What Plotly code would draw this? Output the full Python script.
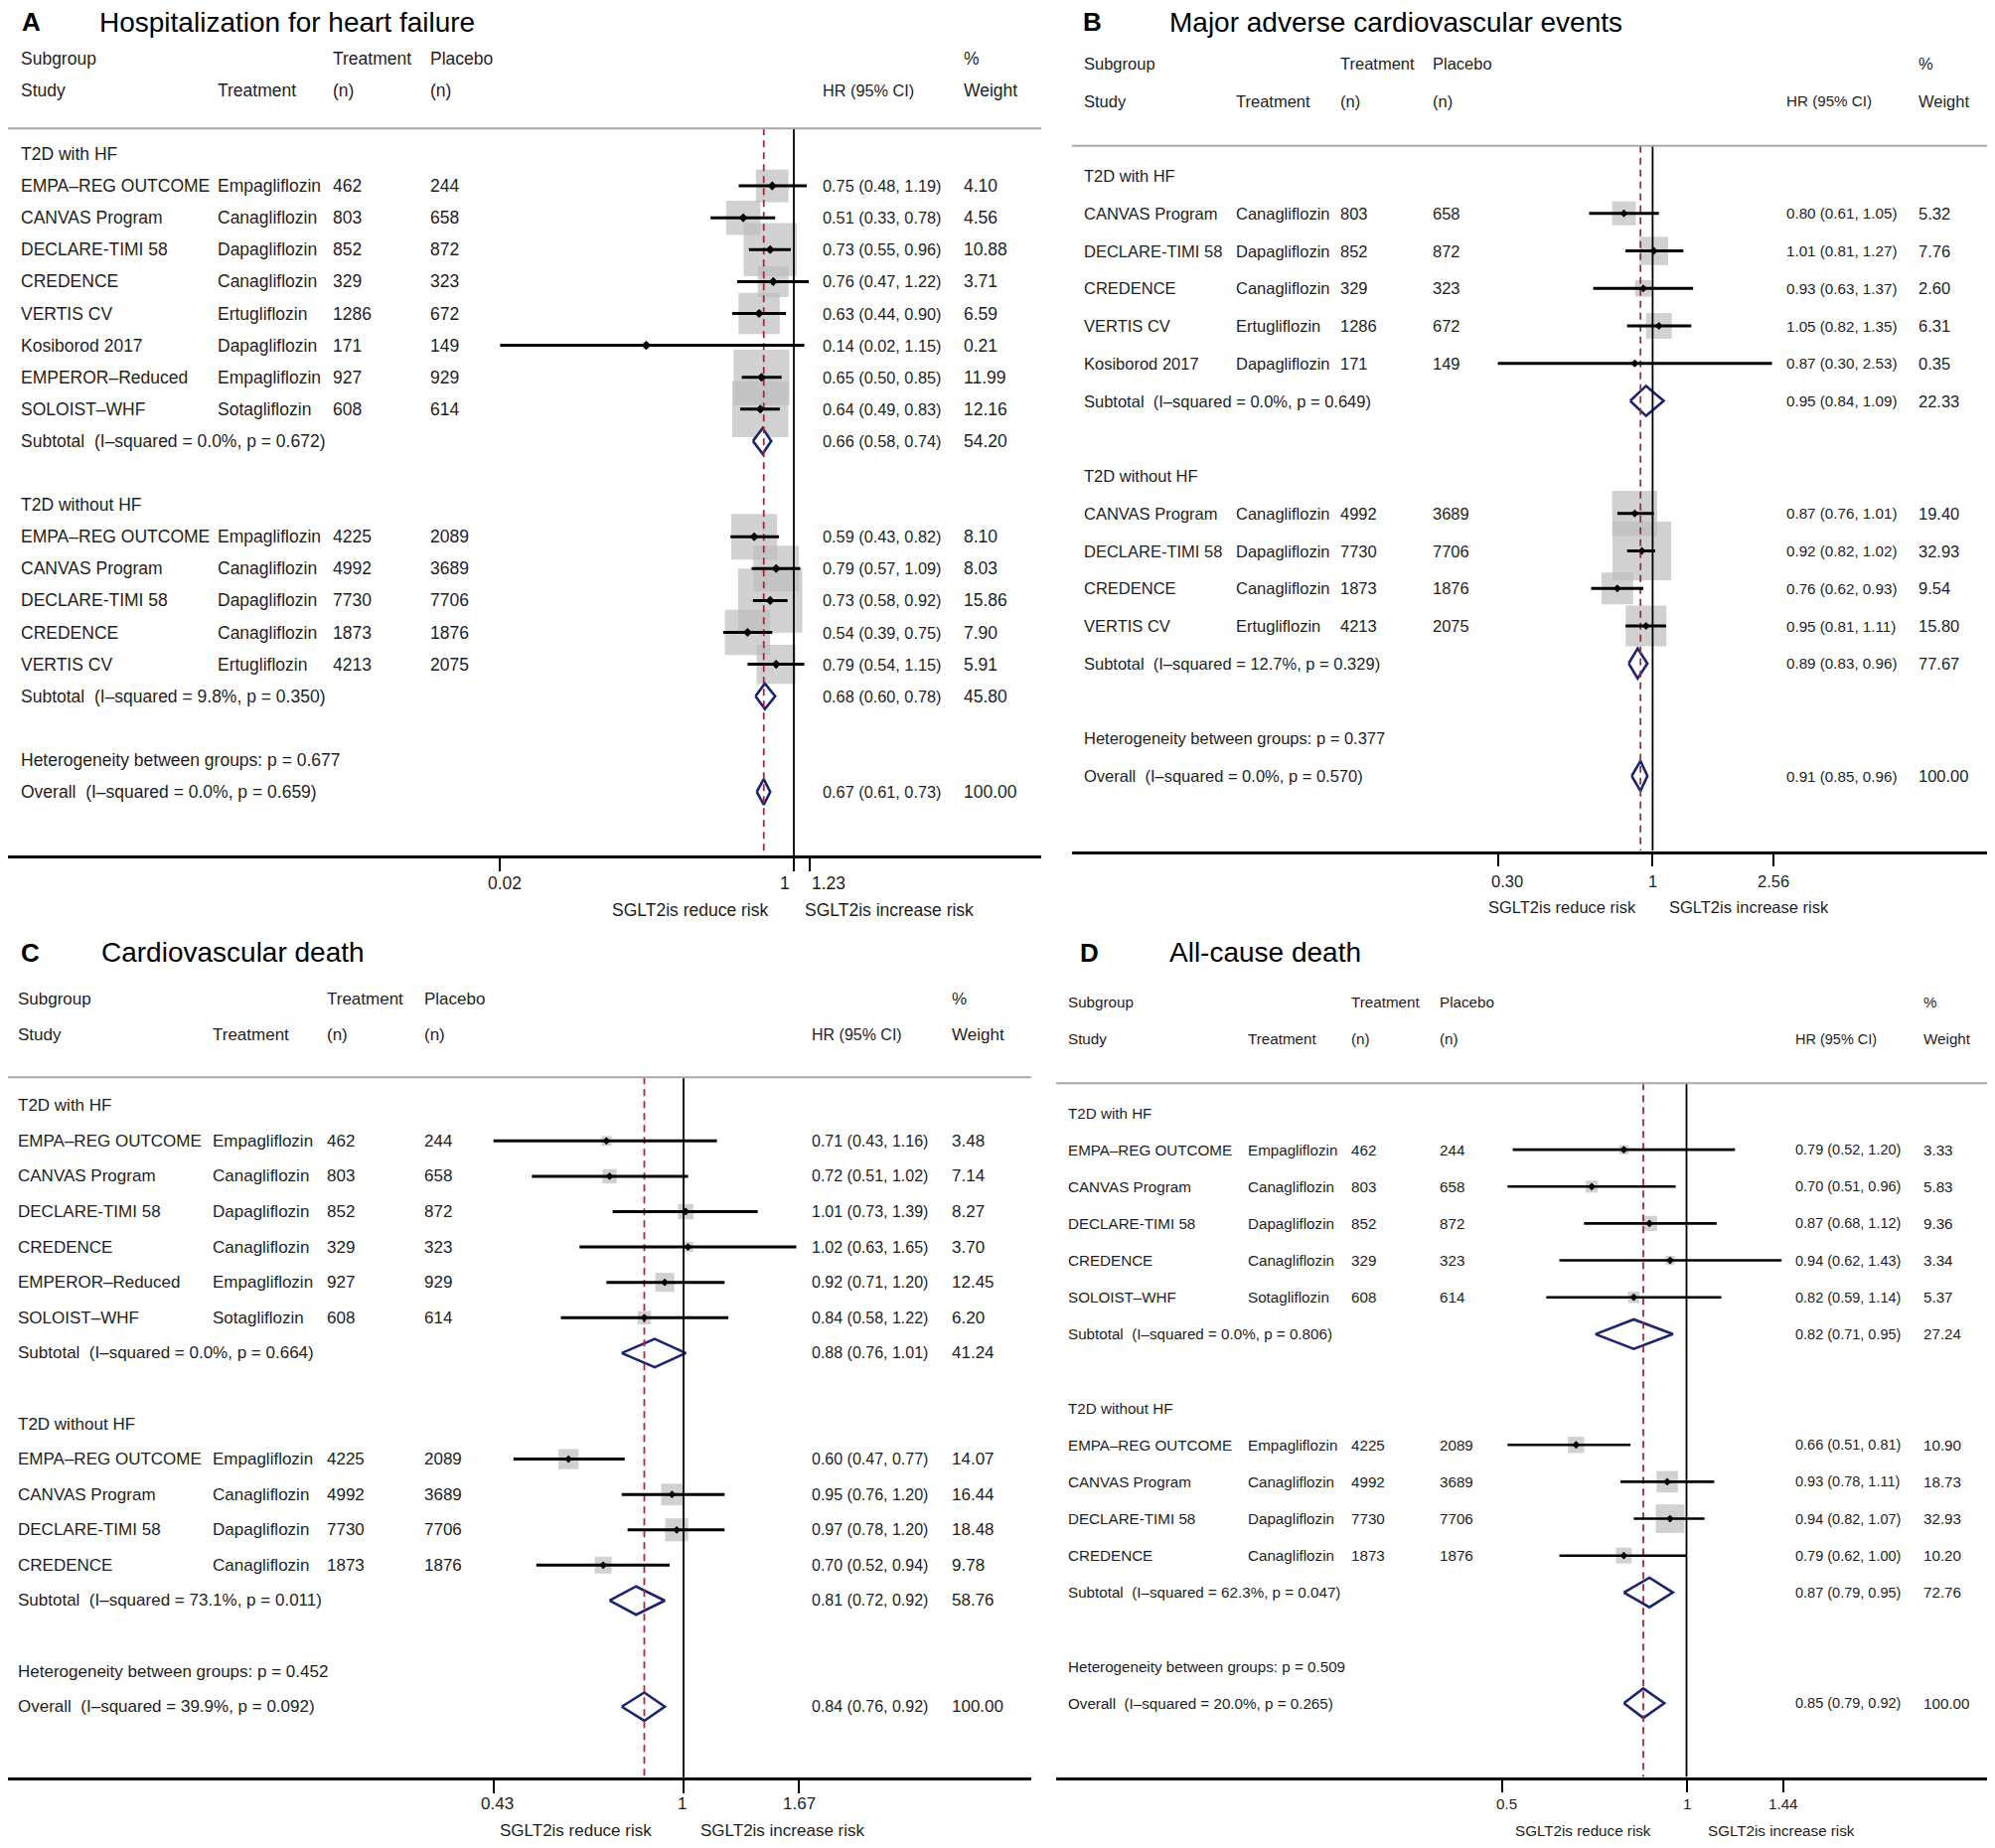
import math
import plotly.graph_objects as go

W, H = 2008, 1860
OFF = 8  # the page body margin shifts the figure by 8 px
ROW_FONT = "Liberation Sans, Arial, sans-serif"
TITLE_FONT = "Liberation Sans, Arial, sans-serif"
TXT = "#1e1e1e"
GRAY_BOX = "#bdbdbd"
NAVY = "#1b2470"
MAROON = "#9e2b3b"

GROUPS = ["T2D with HF", "T2D without HF"]

# ---------------- Panel A: Hospitalization for heart failure ----------------
A_STUDY = ["EMPA–REG OUTCOME", "CANVAS Program", "DECLARE-TIMI 58", "CREDENCE",
           "VERTIS CV", "Kosiborod 2017", "EMPEROR–Reduced", "SOLOIST–WHF",
           "EMPA–REG OUTCOME", "CANVAS Program", "DECLARE-TIMI 58", "CREDENCE", "VERTIS CV"]
A_DRUG = ["Empagliflozin", "Canagliflozin", "Dapagliflozin", "Canagliflozin",
          "Ertugliflozin", "Dapagliflozin", "Empagliflozin", "Sotagliflozin",
          "Empagliflozin", "Canagliflozin", "Dapagliflozin", "Canagliflozin", "Ertugliflozin"]
A_TX_N = [462, 803, 852, 329, 1286, 171, 927, 608, 4225, 4992, 7730, 1873, 4213]
A_PL_N = [244, 658, 872, 323, 672, 149, 929, 614, 2089, 3689, 7706, 1876, 2075]
A_HR = [0.75, 0.51, 0.73, 0.76, 0.63, 0.14, 0.65, 0.64, 0.59, 0.79, 0.73, 0.54, 0.79]
A_LO = [0.48, 0.33, 0.55, 0.47, 0.44, 0.02, 0.50, 0.49, 0.43, 0.57, 0.58, 0.39, 0.54]
A_HI = [1.19, 0.78, 0.96, 1.22, 0.90, 1.15, 0.85, 0.83, 0.82, 1.09, 0.92, 0.75, 1.15]
A_WT = [4.10, 4.56, 10.88, 3.71, 6.59, 0.21, 11.99, 12.16, 8.10, 8.03, 15.86, 7.90, 5.91]
A_N_WITH = 8
A_SUB_HR = [0.66, 0.68]
A_SUB_LO = [0.58, 0.60]
A_SUB_HI = [0.74, 0.78]
A_SUB_WT = [54.20, 45.80]
A_SUB_I2 = [0.0, 9.8]
A_SUB_P = [0.672, 0.350]
A_ALL = [0.67, 0.61, 0.73, 100.00]
A_ALL_I2 = 0.0
A_ALL_P = 0.659
A_HET_P = 0.677
A_TICKS = [0.02, 1, 1.23]
A_TICKTEXT = ["0.02", "1", "1.23"]

# ---------------- Panel B: Major adverse cardiovascular events ----------------
B_STUDY = ["CANVAS Program", "DECLARE-TIMI 58", "CREDENCE", "VERTIS CV", "Kosiborod 2017",
           "CANVAS Program", "DECLARE-TIMI 58", "CREDENCE", "VERTIS CV"]
B_DRUG = ["Canagliflozin", "Dapagliflozin", "Canagliflozin", "Ertugliflozin", "Dapagliflozin",
          "Canagliflozin", "Dapagliflozin", "Canagliflozin", "Ertugliflozin"]
B_TX_N = [803, 852, 329, 1286, 171, 4992, 7730, 1873, 4213]
B_PL_N = [658, 872, 323, 672, 149, 3689, 7706, 1876, 2075]
B_HR = [0.80, 1.01, 0.93, 1.05, 0.87, 0.87, 0.92, 0.76, 0.95]
B_LO = [0.61, 0.81, 0.63, 0.82, 0.30, 0.76, 0.82, 0.62, 0.81]
B_HI = [1.05, 1.27, 1.37, 1.35, 2.53, 1.01, 1.02, 0.93, 1.11]
B_WT = [5.32, 7.76, 2.60, 6.31, 0.35, 19.40, 32.93, 9.54, 15.80]
B_N_WITH = 5
B_SUB_HR = [0.95, 0.89]
B_SUB_LO = [0.84, 0.83]
B_SUB_HI = [1.09, 0.96]
B_SUB_WT = [22.33, 77.67]
B_SUB_I2 = [0.0, 12.7]
B_SUB_P = [0.649, 0.329]
B_ALL = [0.91, 0.85, 0.96, 100.00]
B_ALL_I2 = 0.0
B_ALL_P = 0.570
B_HET_P = 0.377
B_TICKS = [0.30, 1, 2.56]
B_TICKTEXT = ["0.30", "1", "2.56"]

# ---------------- Panel C: Cardiovascular death ----------------
C_STUDY = ["EMPA–REG OUTCOME", "CANVAS Program", "DECLARE-TIMI 58", "CREDENCE",
           "EMPEROR–Reduced", "SOLOIST–WHF",
           "EMPA–REG OUTCOME", "CANVAS Program", "DECLARE-TIMI 58", "CREDENCE"]
C_DRUG = ["Empagliflozin", "Canagliflozin", "Dapagliflozin", "Canagliflozin",
          "Empagliflozin", "Sotagliflozin",
          "Empagliflozin", "Canagliflozin", "Dapagliflozin", "Canagliflozin"]
C_TX_N = [462, 803, 852, 329, 927, 608, 4225, 4992, 7730, 1873]
C_PL_N = [244, 658, 872, 323, 929, 614, 2089, 3689, 7706, 1876]
C_HR = [0.71, 0.72, 1.01, 1.02, 0.92, 0.84, 0.60, 0.95, 0.97, 0.70]
C_LO = [0.43, 0.51, 0.73, 0.63, 0.71, 0.58, 0.47, 0.76, 0.78, 0.52]
C_HI = [1.16, 1.02, 1.39, 1.65, 1.20, 1.22, 0.77, 1.20, 1.20, 0.94]
C_WT = [3.48, 7.14, 8.27, 3.70, 12.45, 6.20, 14.07, 16.44, 18.48, 9.78]
C_N_WITH = 6
C_SUB_HR = [0.88, 0.81]
C_SUB_LO = [0.76, 0.72]
C_SUB_HI = [1.01, 0.92]
C_SUB_WT = [41.24, 58.76]
C_SUB_I2 = [0.0, 73.1]
C_SUB_P = [0.664, 0.011]
C_ALL = [0.84, 0.76, 0.92, 100.00]
C_ALL_I2 = 39.9
C_ALL_P = 0.092
C_HET_P = 0.452
C_TICKS = [0.43, 1, 1.67]
C_TICKTEXT = ["0.43", "1", "1.67"]

# ---------------- Panel D: All-cause death ----------------
D_STUDY = ["EMPA–REG OUTCOME", "CANVAS Program", "DECLARE-TIMI 58", "CREDENCE", "SOLOIST–WHF",
           "EMPA–REG OUTCOME", "CANVAS Program", "DECLARE-TIMI 58", "CREDENCE"]
D_DRUG = ["Empagliflozin", "Canagliflozin", "Dapagliflozin", "Canagliflozin", "Sotagliflozin",
          "Empagliflozin", "Canagliflozin", "Dapagliflozin", "Canagliflozin"]
D_TX_N = [462, 803, 852, 329, 608, 4225, 4992, 7730, 1873]
D_PL_N = [244, 658, 872, 323, 614, 2089, 3689, 7706, 1876]
D_HR = [0.79, 0.70, 0.87, 0.94, 0.82, 0.66, 0.93, 0.94, 0.79]
D_LO = [0.52, 0.51, 0.68, 0.62, 0.59, 0.51, 0.78, 0.82, 0.62]
D_HI = [1.20, 0.96, 1.12, 1.43, 1.14, 0.81, 1.11, 1.07, 1.00]
D_WT = [3.33, 5.83, 9.36, 3.34, 5.37, 10.90, 18.73, 32.93, 10.20]
D_N_WITH = 5
D_SUB_HR = [0.82, 0.87]
D_SUB_LO = [0.71, 0.79]
D_SUB_HI = [0.95, 0.95]
D_SUB_WT = [27.24, 72.76]
D_SUB_I2 = [0.0, 62.3]
D_SUB_P = [0.806, 0.047]
D_ALL = [0.85, 0.79, 0.92, 100.00]
D_ALL_I2 = 20.0
D_ALL_P = 0.265
D_HET_P = 0.509
D_TICKS = [0.5, 1, 1.44]
D_TICKTEXT = ["0.5", "1", "1.44"]

# ---------------- layout configuration (pixels of the 2008x1860 page) ----------------
PANELS = [
    dict(letter="A", title="Hospitalization for heart failure",
         study=A_STUDY, drug=A_DRUG, txn=A_TX_N, pln=A_PL_N, hr=A_HR, lo=A_LO, hi=A_HI, wt=A_WT,
         n_with=A_N_WITH, sub_hr=A_SUB_HR, sub_lo=A_SUB_LO, sub_hi=A_SUB_HI, sub_wt=A_SUB_WT,
         sub_i2=A_SUB_I2, sub_p=A_SUB_P, all=A_ALL, all_i2=A_ALL_I2, all_p=A_ALL_P, het=A_HET_P,
         ticks=A_TICKS, ticktext=A_TICKTEXT, tickshift=[5, -9, 19], tick_dy=28,
         xl=8, xr=1048, x1=799, ppl=174.0, top=8, row0=155, sp=32.1,
         cols=[20, 218, 333.5, 432, 827, 969], letter_x=20, title_x=98, title_y=22,
         fs=17.5, hrfs=16.3, boxk=16.2, dm=7, ciw=3, reduce_r=775, increase_l=808, risk_y=916),
    dict(letter="B", title="Major adverse cardiovascular events",
         study=B_STUDY, drug=B_DRUG, txn=B_TX_N, pln=B_PL_N, hr=B_HR, lo=B_LO, hi=B_HI, wt=B_WT,
         n_with=B_N_WITH, sub_hr=B_SUB_HR, sub_lo=B_SUB_LO, sub_hi=B_SUB_HI, sub_wt=B_SUB_WT,
         sub_i2=B_SUB_I2, sub_p=B_SUB_P, all=B_ALL, all_i2=B_ALL_I2, all_p=B_ALL_P, het=B_HET_P,
         ticks=B_TICKS, ticktext=B_TICKTEXT, tickshift=[9, 0, 0], tick_dy=30,
         xl=1079, xr=2006, x1=1663.4, ppl=298.0, top=8, row0=177, sp=37.75,
         cols=[1089.7, 1243, 1348, 1441, 1796.5, 1930], letter_x=1088, title_x=1175, title_y=22,
         fs=16.5, hrfs=15.2, boxk=10.3, dm=6, ciw=3, reduce_r=1649, increase_l=1678, risk_y=913),
    dict(letter="C", title="Cardiovascular death",
         study=C_STUDY, drug=C_DRUG, txn=C_TX_N, pln=C_PL_N, hr=C_HR, lo=C_LO, hi=C_HI, wt=C_WT,
         n_with=C_N_WITH, sub_hr=C_SUB_HR, sub_lo=C_SUB_LO, sub_hi=C_SUB_HI, sub_wt=C_SUB_WT,
         sub_i2=C_SUB_I2, sub_p=C_SUB_P, all=C_ALL, all_i2=C_ALL_I2, all_p=C_ALL_P, het=C_HET_P,
         ticks=C_TICKS, ticktext=C_TICKTEXT, tickshift=[4, -2, 0], tick_dy=27,
         xl=8, xr=1038, x1=688, ppl=522.0, top=930, row0=1112.7, sp=35.59,
         cols=[16.7, 213, 328, 426, 816, 956.5], letter_x=19, title_x=100, title_y=959,
         fs=17, hrfs=16.0, boxk=5.4, dm=6, ciw=3, reduce_r=658, increase_l=703, risk_y=1842),
    dict(letter="D", title="All-cause death",
         study=D_STUDY, drug=D_DRUG, txn=D_TX_N, pln=D_PL_N, hr=D_HR, lo=D_LO, hi=D_HI, wt=D_WT,
         n_with=D_N_WITH, sub_hr=D_SUB_HR, sub_lo=D_SUB_LO, sub_hi=D_SUB_HI, sub_wt=D_SUB_WT,
         sub_i2=D_SUB_I2, sub_p=D_SUB_P, all=D_ALL, all_i2=D_ALL_I2, all_p=D_ALL_P, het=D_HET_P,
         ticks=D_TICKS, ticktext=D_TICKTEXT, tickshift=[4.5, 0, 0], tick_dy=27,
         xl=1063, xr=2006, x1=1697.5, ppl=616.0, top=930, row0=1120, sp=37.14,
         cols=[1074.4, 1254.6, 1358.5, 1448.3, 1806.3, 1934.5], letter_x=1085, title_x=1175, title_y=959,
         fs=15.2, hrfs=14.5, boxk=5.0, dm=6, ciw=2.6, reduce_r=1664, increase_l=1717, risk_y=1842),
]

TOPLINE_ROW = -0.8
NBSP = "\u00a0"


def fx(px):
    return min(1.0, max(0.0, (px - OFF) / W))


def fy(py):
    return min(1.0, max(0.0, 1 - (py - OFF) / H))


fig = go.Figure()
annotations = []
shapes = []
axes = {}


def add_text(x_px, yref, y, text, size, anchor="left", family=ROW_FONT, color=TXT):
    annotations.append(dict(xref="paper", x=fx(x_px), yref=yref, y=y, text=text,
                            showarrow=False, xanchor=anchor, yanchor="middle",
                            borderpad=0, font=dict(family=family, size=size, color=color)))


for i, P in enumerate(PANELS):
    sfx = "" if i == 0 else str(i + 1)
    xa, ya = "x" + sfx, "y" + sfx
    n1 = P["n_with"]
    n = len(P["hr"])
    n2 = n - n1
    study_rows = list(range(1, n1 + 1)) + list(range(n1 + 4, n1 + 4 + n2))
    grp_rows = [0, n1 + 3]
    sub_rows = [n1 + 1, n1 + 4 + n2]
    het_row = n1 + 6 + n2
    all_row = n1 + 7 + n2
    axis_row = n1 + 9 + n2
    fs = P["fs"]
    hrfs = P["hrfs"]
    c_study, c_drug, c_txn, c_pln, c_hr, c_wt = P["cols"]

    # weight boxes
    fig.add_trace(go.Scatter(
        x=P["hr"], y=study_rows, mode="markers", xaxis=xa, yaxis=ya,
        marker=dict(symbol="square", color=GRAY_BOX, line=dict(width=0),
                    size=[P["boxk"] * math.sqrt(w) for w in P["wt"]]),
        hoverinfo="skip", showlegend=False))

    # summary diamonds (subtotals + overall)
    s_hr = P["sub_hr"] + [P["all"][0]]
    s_lo = P["sub_lo"] + [P["all"][1]]
    s_hi = P["sub_hi"] + [P["all"][2]]
    s_rows = sub_rows + [all_row]
    dx, dy = [], []
    for r, h, lo, hi in zip(s_rows, s_hr, s_lo, s_hi):
        dx += [lo, h, hi, h, lo, None]
        dy += [r, r - 0.4, r, r + 0.4, r, None]
    fig.add_trace(go.Scatter(
        x=dx, y=dy, mode="lines", xaxis=xa, yaxis=ya, fill="toself", fillcolor="white",
        line=dict(color=NAVY, width=2.6), hoverinfo="skip", showlegend=False))

    # reference lines: null effect and overall estimate
    fig.add_trace(go.Scatter(
        x=[1, 1], y=[TOPLINE_ROW, axis_row], mode="lines", xaxis=xa, yaxis=ya,
        line=dict(color="black", width=1.8), hoverinfo="skip", showlegend=False))
    fig.add_trace(go.Scatter(
        x=[P["all"][0], P["all"][0]], y=[TOPLINE_ROW, axis_row], mode="lines", xaxis=xa, yaxis=ya,
        line=dict(color=MAROON, width=1.8, dash="7px,5px"), hoverinfo="skip", showlegend=False))

    # confidence intervals
    cx, cy = [], []
    for r, lo, hi in zip(study_rows, P["lo"], P["hi"]):
        cx += [lo, hi, None]
        cy += [r, r, None]
    fig.add_trace(go.Scatter(
        x=cx, y=cy, mode="lines", xaxis=xa, yaxis=ya,
        line=dict(color="black", width=P["ciw"]), hoverinfo="skip", showlegend=False))

    # point estimates
    fig.add_trace(go.Scatter(
        x=P["hr"], y=study_rows, mode="markers", xaxis=xa, yaxis=ya,
        marker=dict(symbol="diamond", size=P["dm"], color="black", line=dict(width=0)),
        hoverinfo="skip", showlegend=False))

    # axes (tick marks from the axis; tick labels placed at the tick values below)
    axis_px = P["row0"] + axis_row * P["sp"]
    axes["xaxis" + sfx] = dict(
        type="log", domain=[fx(P["xl"]), fx(P["xr"])],
        range=[(P["xl"] - P["x1"]) / P["ppl"], (P["xr"] - P["x1"]) / P["ppl"]],
        anchor=ya, showline=True, linecolor="black", linewidth=2.5,
        ticks="outside", ticklen=13, tickwidth=2, tickcolor="black",
        tickmode="array", tickvals=P["ticks"], ticktext=P["ticktext"], showticklabels=False,
        showgrid=False, zeroline=False, fixedrange=True)
    axes["yaxis" + sfx] = dict(
        domain=[fy(axis_px), fy(P["top"])],
        range=[axis_row, (P["top"] - P["row0"]) / P["sp"]],
        anchor=xa, visible=False, showgrid=False, zeroline=False, fixedrange=True)
    for t, lab, sh in zip(P["ticks"], P["ticktext"], P["tickshift"]):
        annotations.append(dict(xref=xa, x=math.log10(t), yref="paper", y=fy(axis_px + P["tick_dy"]),
                                text=lab, showarrow=False, xanchor="center", yanchor="middle",
                                xshift=sh, borderpad=0,
                                font=dict(family=ROW_FONT, size=fs, color=TXT)))

    # top separator line
    shapes.append(dict(type="line", xref=xa + " domain", x0=0, x1=1, yref=ya,
                       y0=TOPLINE_ROW, y1=TOPLINE_ROW, line=dict(color="#a8a8a8", width=2)))

    # header
    add_text(c_study, ya, -3, "Subgroup", fs)
    add_text(c_txn, ya, -3, "Treatment", fs)
    add_text(c_pln, ya, -3, "Placebo", fs)
    add_text(c_wt, ya, -3, "%", fs)
    add_text(c_study, ya, -2, "Study", fs)
    add_text(c_drug, ya, -2, "Treatment", fs)
    add_text(c_txn, ya, -2, "(n)", fs)
    add_text(c_pln, ya, -2, "(n)", fs)
    add_text(c_hr, ya, -2, "HR (95% CI)", hrfs)
    add_text(c_wt, ya, -2, "Weight", fs)

    # group labels
    for r, g in zip(grp_rows, GROUPS):
        add_text(c_study, ya, r, g, fs)

    # study rows
    for k, r in enumerate(study_rows):
        add_text(c_study, ya, r, P["study"][k], fs)
        add_text(c_drug, ya, r, P["drug"][k], fs)
        add_text(c_txn, ya, r, str(P["txn"][k]), fs)
        add_text(c_pln, ya, r, str(P["pln"][k]), fs)
        add_text(c_hr, ya, r, f"{P['hr'][k]:.2f} ({P['lo'][k]:.2f}, {P['hi'][k]:.2f})", hrfs)
        add_text(c_wt, ya, r, f"{P['wt'][k]:.2f}", fs)

    # subtotals
    for j, r in enumerate(sub_rows):
        add_text(c_study, ya, r,
                 f"Subtotal{NBSP} (I–squared = {P['sub_i2'][j]:.1f}%, p = {P['sub_p'][j]:.3f})", fs)
        add_text(c_hr, ya, r, f"{P['sub_hr'][j]:.2f} ({P['sub_lo'][j]:.2f}, {P['sub_hi'][j]:.2f})", hrfs)
        add_text(c_wt, ya, r, f"{P['sub_wt'][j]:.2f}", fs)

    # heterogeneity and overall
    add_text(c_study, ya, het_row, f"Heterogeneity between groups: p = {P['het']:.3f}", fs)
    add_text(c_study, ya, all_row,
             f"Overall{NBSP} (I–squared = {P['all_i2']:.1f}%, p = {P['all_p']:.3f})", fs)
    add_text(c_hr, ya, all_row, f"{P['all'][0]:.2f} ({P['all'][1]:.2f}, {P['all'][2]:.2f})", hrfs)
    add_text(c_wt, ya, all_row, f"{P['all'][3]:.2f}", fs)

    # panel letter and title
    annotations.append(dict(xref="paper", yref="paper", x=fx(P["letter_x"]), y=fy(P["title_y"]),
                            text=f"<b>{P['letter']}</b>", showarrow=False, xanchor="left",
                            yanchor="middle", font=dict(family=TITLE_FONT, size=26, color="black")))
    annotations.append(dict(xref="paper", yref="paper", x=fx(P["title_x"]), y=fy(P["title_y"]),
                            text=P["title"], showarrow=False, xanchor="left",
                            yanchor="middle", font=dict(family=TITLE_FONT, size=28, color="black")))

    # direction labels
    annotations.append(dict(xref="paper", yref="paper", x=fx(P["reduce_r"]), y=fy(P["risk_y"]),
                            text="SGLT2is reduce risk", showarrow=False, xanchor="right",
                            yanchor="middle", font=dict(family=ROW_FONT, size=fs, color=TXT)))
    annotations.append(dict(xref="paper", yref="paper", x=fx(P["increase_l"]), y=fy(P["risk_y"]),
                            text="SGLT2is increase risk", showarrow=False, xanchor="left",
                            yanchor="middle", font=dict(family=ROW_FONT, size=fs, color=TXT)))

fig.update_layout(
    width=W, height=H, margin=dict(l=0, r=0, t=0, b=0),
    paper_bgcolor="white", plot_bgcolor="white",
    font=dict(family=ROW_FONT, color=TXT),
    showlegend=False, annotations=annotations, shapes=shapes, **axes)

fig.write_html("out.html")
